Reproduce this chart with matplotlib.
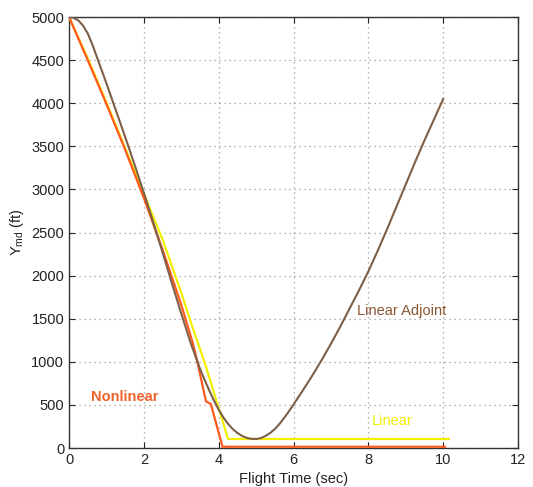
import matplotlib
matplotlib.use("Agg")
import matplotlib.pyplot as plt

plt.rcParams["font.family"] = ["Liberation Sans", "DejaVu Sans"]
plt.rcParams["mathtext.fontset"] = "custom"
plt.rcParams["mathtext.rm"] = "Liberation Sans"

# ── data ────────────────────────────────────────────────────────────────────
adj_t = [0, 0.125, 0.25, 0.375, 0.5, 0.625, 0.75, 0.875, 1.0, 1.25, 1.5, 1.75,
         2.0, 2.25, 2.5, 2.75, 3.0, 3.25, 3.5, 3.625, 3.75, 3.875, 4.0, 4.125,
         4.25, 4.375, 4.5, 4.625, 4.75, 4.875, 5.0, 5.125, 5.25, 5.375, 5.5,
         5.625, 5.75, 5.875, 6.0, 6.125, 6.25, 6.5, 6.75, 7.0, 7.25, 7.5,
         7.75, 8.0, 8.25, 8.5, 8.75, 9.0, 9.25, 9.5, 9.75, 10.0]
adj_y = [5000, 4990, 4960, 4900, 4810, 4680, 4530, 4380, 4230, 3920, 3610, 3290,
         2960, 2620, 2270, 1910, 1560, 1220, 920, 790, 665, 550, 445, 355,
         280, 220, 175, 140, 118, 107, 105, 115, 140, 175, 220,
         280, 350, 425, 505, 588, 670, 840, 1020, 1210, 1410, 1620,
         1830, 2050, 2290, 2540, 2800, 3060, 3320, 3570, 3810, 4050]

lin_t = [0, 0.5, 1.0, 1.5, 2.0, 2.5, 3.0, 3.3, 3.65, 4.25, 10.15]
lin_y = [5000, 4520, 4010, 3480, 2950, 2420, 1800, 1400, 960, 105, 105]

nl_t = [0, 0.5, 1.0, 1.5, 2.0, 2.5, 3.0, 3.3, 3.43, 3.66, 3.79, 4.1, 10.05]
nl_y = [5000, 4500, 3990, 3460, 2900, 2300, 1660, 1230, 1000, 540, 512, 15, 15]

xticks = [0, 2, 4, 6, 8, 10, 12]
yticks = list(range(0, 5001, 500))

C = {
    "adj": "#7d5f47",
    "adj_text": "#8a5634",
    "lin": "#f2f000",
    "nl": "#ff5a1e",
    "nl_text": "#f0622a",
    "text": "#222222",
}

fig = plt.figure(figsize=(5.33, 4.87), dpi=100)
ax = fig.add_axes([0.1295, 0.080, 0.8425, 0.885])

ax.plot(lin_t, lin_y, color=C["lin"], lw=1.6, zorder=3)
ax.plot(nl_t, nl_y, color=C["nl"], lw=1.6, zorder=4)
ax.plot(adj_t, adj_y, color=C["adj"], lw=1.5, zorder=5)

ax.set_xlim(0, 12)
ax.set_ylim(0, 5000)
ax.set_xticks(xticks)
ax.set_yticks(yticks)
ax.grid(True, linestyle=(0, (1, 3)), color="#9a9a9a", lw=0.9)
ax.tick_params(direction="in", top=True, right=True, length=4,
               labelsize=10.5, colors=C["text"], width=0.8)
for s in ax.spines.values():
    s.set_color("#333333")
    s.set_linewidth(1.0)

ax.set_xlabel("Flight Time (sec)", fontsize=10.5, color=C["text"], labelpad=4)
ax.set_ylabel(r"Y$_{\mathrm{md}}$ (ft)", fontsize=10.5, color=C["text"], labelpad=4)

ax.text(0.6, 590, "Nonlinear", color=C["nl_text"], fontsize=10.5,
        fontweight="bold", ha="left", va="center")
ax.text(7.7, 1590, "Linear Adjoint", color=C["adj_text"], fontsize=10.5,
        ha="left", va="center")
ax.text(8.08, 310, "Linear", color=C["lin"], fontsize=10.5,
        ha="left", va="center")

fig.savefig("out.png", dpi=100, facecolor="white")
